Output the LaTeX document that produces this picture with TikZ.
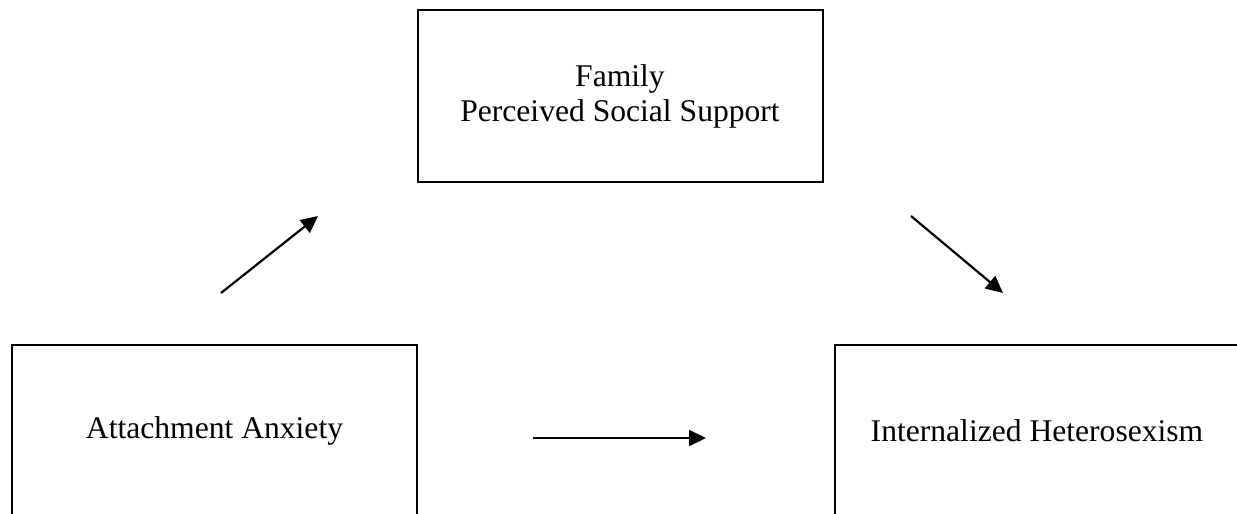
\documentclass[tikz,border=0pt]{standalone}
\usepackage{fontspec}
\setmainfont{Liberation Serif}
\usetikzlibrary{arrows.meta,positioning}
\tikzset{
  varbox/.style={draw, line width=1pt, minimum width=202.5pt, minimum height=86pt,
    align=center, inner sep=0pt, font=\fontsize{15.8}{17.5}\selectfont},
  effect/.style={-{Triangle[length=8.5pt,width=8pt]}, line width=1.1pt},
}
\begin{document}
\begin{tikzpicture}[x=0.5pt,y=-0.5pt]
  \useasboundingbox (0,0) rectangle (1237,514);
  \clip (0,0) rectangle (1237,514);

  \node[varbox] (support) at (620,96) {Family\\Perceived Social Support};
  \node[varbox] (anxiety) at (214.5,431) {Attachment Anxiety};
  \node[varbox] (hetero) at (1037,431) {Internalized Heterosexism};

  % free-standing path arrows
  \coordinate (a1) at (221,293);
  \coordinate (a2) at (318,216);
  \coordinate (b1) at (911,216);
  \coordinate (b2) at (1003,293);
  \coordinate (c1) at (533,438);
  \coordinate (c2) at (706,438);

  \draw[effect] (a1) -- (a2);
  \draw[effect] (b1) -- (b2);
  \draw[effect] (c1) -- (c2);
\end{tikzpicture}
\end{document}
